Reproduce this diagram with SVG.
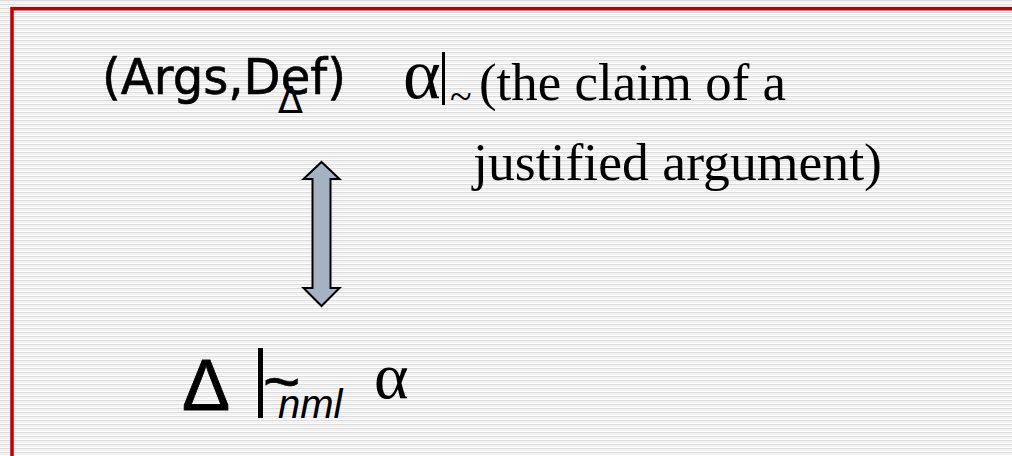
<svg xmlns="http://www.w3.org/2000/svg" width="1012" height="456" viewBox="0 0 1012 456">
  <defs>
    <pattern id="stripes" x="0" y="0" width="8" height="4" patternUnits="userSpaceOnUse">
      <rect x="0" y="0" width="8" height="4" fill="#ffffff"/>
      <rect x="0" y="0" width="8" height="1.3" fill="#dcdcdc"/>
      <rect x="0" y="2" width="8" height="1" fill="#f0f0f0"/>
    </pattern>
  </defs>
  <style>
    .serif { font-family: "Liberation Serif", "Times New Roman", serif; fill: #000; }
    .sans { font-family: "Liberation Sans", Arial, sans-serif; fill: #000; }
    .comic { font-family: "DejaVu Sans", "Noto Sans", sans-serif; fill: #000; }
  </style>
  <rect x="0" y="0" width="1012" height="456" fill="url(#stripes)"/>
  <path d="M12,456 V8.7 H1012" fill="none" stroke="#c00000" stroke-width="3.5"/>

  <g id="argumentation">
    <text class="comic" x="102" y="94" font-size="50" textLength="244" lengthAdjust="spacingAndGlyphs" stroke="#000" stroke-width="0.6">(Args,Def)</text>
    <text class="comic" x="290.5" y="113" font-size="37" text-anchor="middle">Δ</text>
  </g>

  <g id="claim">
    <text class="serif" x="403" y="98" font-size="72">α</text>
    <rect x="442" y="52" width="3" height="53" fill="#000"/>
    <text class="serif" x="450" y="110" font-size="40">~</text>
    <text class="serif" x="479" y="100" font-size="53" textLength="307" lengthAdjust="spacingAndGlyphs">(the claim of a</text>
    <text class="serif" x="473" y="180" font-size="53" textLength="409" lengthAdjust="spacingAndGlyphs">justified argument)</text>
  </g>

  <g id="connectors">
    <polygon points="321.5,162 339.5,179 330.5,179 330.5,288 339.5,288 321.5,306 303.5,288 312.5,288 312.5,179 303.5,179" fill="#a4b2c2" stroke="#000" stroke-width="2" stroke-linejoin="miter"/>
  </g>

  <g id="entailment">
    <text class="sans" x="182" y="410" font-size="72" stroke="#000" stroke-width="0.8">Δ</text>
    <rect x="258" y="348" width="5" height="70" fill="#000"/>
    <text class="sans" x="263" y="404" font-size="64" stroke="#000" stroke-width="0.6">~</text>
    <text class="sans" x="278" y="418" font-size="40" font-style="italic">nml</text>
    <text class="serif" x="374" y="398" font-size="66">α</text>
  </g>
</svg>
